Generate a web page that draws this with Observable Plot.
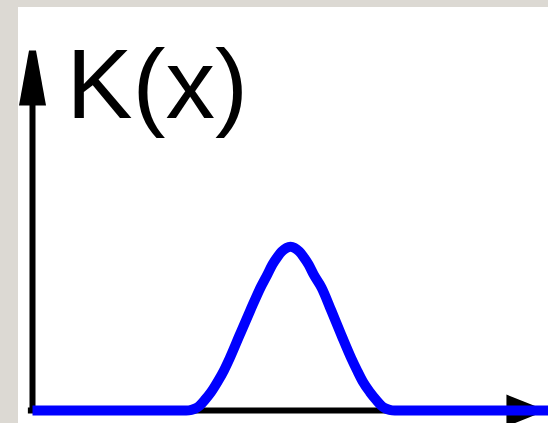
<!DOCTYPE html>
<html>
<head>
<meta charset="utf-8">
<script src="https://cdn.jsdelivr.net/npm/d3@7"></script>
<script src="https://cdn.jsdelivr.net/npm/@observablehq/plot@0.6"></script>
<style>
  html, body { margin: 0; padding: 0; }
  body { width: 548px; height: 423px; background: #dcd9d3; overflow: hidden; }
  #chart { position: absolute; left: 18px; top: 7px; width: 530px; height: 416px; background: #ffffff; }
  #chart svg { display: block; background: #ffffff; }
</style>
</head>
<body>
<div id="chart"></div>
<script>
// Kernel profile K(x): a single smooth bump on a flat baseline
const kernelX = [0, 2.98, 3.08, 3.17, 3.25, 3.33, 3.46, 3.59, 3.71, 3.82, 4.01, 4.22, 4.42, 4.55, 4.65, 4.75, 4.83, 4.92, 5.00, 5.08, 5.17, 5.25, 5.35, 5.45, 5.60, 5.79, 5.99, 6.18, 6.29, 6.40, 6.54, 6.67, 6.75, 6.83, 6.92, 7.02, 10];
const kernelY = [0, 0, 0.004, 0.014, 0.033, 0.061, 0.112, 0.177, 0.245, 0.318, 0.458, 0.611, 0.752, 0.830, 0.892, 0.940, 0.971, 0.993, 1.0, 0.993, 0.971, 0.940, 0.892, 0.830, 0.752, 0.611, 0.458, 0.318, 0.245, 0.177, 0.112, 0.061, 0.033, 0.014, 0.004, 0, 0];

// Axis extents (data units): horizontal axis and vertical axis end at their arrow tips
const xAxisExtent = [-0.08, 9.96];
const yAxisExtent = [0, 2.2];

// Axis label
const labelText = ["K(x)"];
const labelPos = [[0.66, 1.785]];

const kernel = kernelX.map((x, i) => ({x, y: kernelY[i]}));
const labels = labelText.map((text, i) => ({text, x: labelPos[i][0], y: labelPos[i][1]}));

// Filled arrowheads as custom symbols, anchored at the tip
const arrowUp = {
  draw(ctx) {
    ctx.moveTo(-3.5, 0);
    ctx.lineTo(3.5, 0);
    ctx.lineTo(13.5, 55);
    ctx.lineTo(-13.5, 55);
    ctx.closePath();
  }
};
const arrowRight = {
  draw(ctx) {
    ctx.moveTo(0, 0);
    ctx.lineTo(-40, -16);
    ctx.lineTo(-40, 16);
    ctx.closePath();
  }
};

const chart = Plot.plot({
  width: 530,
  height: 416,
  margin: 0,
  x: {domain: [0, 10], range: [14, 530], axis: null},
  y: {domain: [0, 2.2], range: [403, 43], axis: null},
  marks: [
    // axes
    Plot.ruleY([0], {x1: xAxisExtent[0], x2: xAxisExtent[1] - 0.5, stroke: "black", strokeWidth: 6}),
    Plot.ruleX([0], {y1: yAxisExtent[0], y2: yAxisExtent[1] - 0.1, stroke: "black", strokeWidth: 6}),
    Plot.dot([{x: 0, y: yAxisExtent[1]}], {x: "x", y: "y", symbol: arrowUp, r: 10, fill: "black", stroke: "none"}),
    Plot.dot([{x: xAxisExtent[1], y: 0}], {x: "x", y: "y", symbol: arrowRight, r: 10, fill: "black", stroke: "none"}),
    // kernel curve
    Plot.line(kernel, {
      x: "x", y: "y",
      stroke: "#0000ff", strokeWidth: 10,
      strokeLinecap: "butt", strokeLinejoin: "round",
      curve: "monotone-x"
    }),
    // label
    Plot.text(labels, {
      x: "x", y: "y", text: "text",
      textAnchor: "start", lineAnchor: "bottom",
      fontSize: 99, fill: "black",
      fontFamily: "Liberation Sans, Arial, sans-serif"
    })
  ]
});

document.getElementById("chart").appendChild(chart);
</script>
</body>
</html>
